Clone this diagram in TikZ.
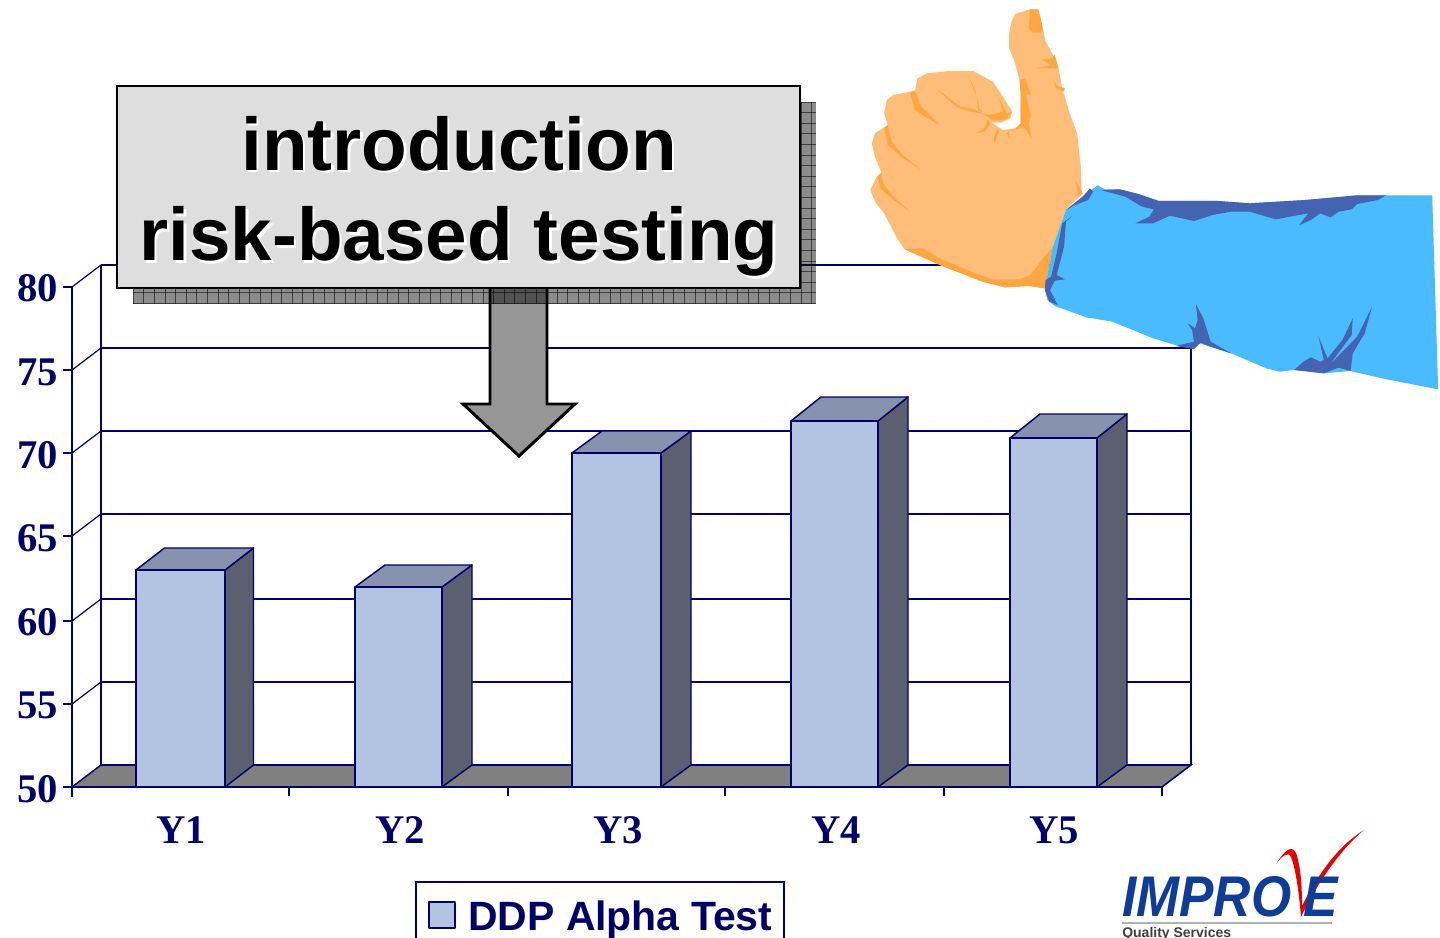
\documentclass[tikz,border=0pt]{standalone}
\usepackage{fontspec}
\setmainfont{Liberation Sans}
\newfontfamily\serifb{Liberation Serif}[BoldFont={Liberation Serif Bold}]
\definecolor{navy}{HTML}{000066}
\definecolor{face}{HTML}{B3C3E2}
\definecolor{barside}{HTML}{5A6070}
\definecolor{bartop}{HTML}{8793AE}
\definecolor{floorg}{HTML}{808080}
\definecolor{skin}{HTML}{FEBE7A}
\definecolor{skind}{HTML}{FEA640}
\definecolor{sleeve}{HTML}{4ABBFF}
\definecolor{sleeved}{HTML}{4464B2}
\definecolor{improve}{HTML}{0F3C96}
\definecolor{arrowg}{HTML}{969696}
\tikzset{
  x=0.75pt,y=-0.75pt,
  axisline/.style={draw=navy,line width=1.2pt},
  gridline/.style={draw=navy,line width=0.9pt},
  barf/.style={draw=navy,line width=1.1pt,fill=face,line join=round},
  bars/.style={draw=navy,line width=1.1pt,fill=barside,line join=round},
  bart/.style={draw=navy,line width=1.1pt,fill=bartop,line join=round},
  axlabel/.style={font=\serifb\bfseries\fontsize{30.5}{30.5}\selectfont,text=navy,inner sep=0pt},
  ttl/.style={font=\bfseries\fontsize{56}{56}\selectfont,inner sep=0pt,anchor=base},
  logotxt/.style={inner sep=0pt,anchor=base west,text=improve,font=\bfseries\itshape\fontsize{43}{43}\selectfont,xscale=0.9},
}
\newcommand{\drawbar}[5]{% x0, x1, top, dx, dy
  \path[bars] (#2,787) -- (#2+#4,765) -- (#2+#4,#3-#5) -- (#2,#3) -- cycle;
  \path[bart] (#1,#3) -- (#1+#4,#3-#5) -- (#2+#4,#3-#5) -- (#2,#3) -- cycle;
  \path[barf] (#1,#3) rectangle (#2,787);
}
\begin{document}
\begin{tikzpicture}
\useasboundingbox (0,0) rectangle (1440,938);
\path[fill=white] (0,0) rectangle (1440,938);
% chart walls
\path[fill=floorg,draw=navy,line width=1.1pt] (72,787) -- (101,765) -- (1191,765) -- (1162,787) -- cycle;
\foreach \yy in {265,348,431,514,599,682,765} \draw[gridline] (101,\yy) -- (1191,\yy);
\foreach \ya/\yb in {287/265,370/348,453/431,536/514,621/599,704/682} \draw[gridline] (72,\ya) -- (101,\yb);
\draw[gridline] (101,265) -- (101,765);
\draw[gridline] (1191,265) -- (1191,765);
\draw[axisline] (72,287) -- (72,797);
\draw[axisline] (63,787) -- (1162,787);
\foreach \yy in {287,370,453,536,621,704} \draw[axisline] (63,\yy) -- (72,\yy);
\foreach \xx in {289,508,725,944,1162} \draw[axisline] (\xx,787) -- (\xx,796);
% bars
\drawbar{136}{225}{570}{28.5}{22}
\drawbar{355}{442}{587}{30}{22}
\drawbar{572}{661}{453}{30}{22}
\drawbar{791}{878}{421}{30}{24}
\drawbar{1010}{1097}{438}{30}{24}
% axis labels
\foreach \v/\yy in {80/301.5,75/385,70/468.5,65/551.5,60/635,55/718.5,50/802}
  \node[axlabel,anchor=base east] (v\v) at (58,\yy) {\v};
\foreach \t/\xx in {Y1/181,Y2/400,Y3/618,Y4/836,Y5/1054}
  \node[axlabel,anchor=base] (l\t) at (\xx,843) {\t};
% legend
\path[draw=navy,line width=1.1pt,fill=white] (416,945) -- (416,882) -- (784,882) -- (784,945);
\path[barf] (429,902) rectangle (455,928);
\node[inner sep=0pt,anchor=base west,text=navy,font=\bfseries\fontsize{30.7}{30.7}\selectfont] (legend) at (468,930) {DDP Alpha Test};
% arrow
\path[draw=black,line width=2.2pt,fill=arrowg,line join=miter] (490,280) -- (547,280) -- (547,404) -- (575,404) -- (519,456) -- (463,404) -- (490,404) -- cycle;
% shadow of callout
\begin{scope}
\clip (133,102) rectangle (816,304);
\path[fill=black,fill opacity=0.45] (133,102) rectangle (816,304);
\foreach \xx in {133,143.6,...,816} \draw[black,draw opacity=0.55,line width=0.45pt] (\xx,102) -- (\xx,304);
\foreach \yy in {102,112.6,...,304} \draw[black,draw opacity=0.55,line width=0.45pt] (133,\yy) -- (816,\yy);
\end{scope}
% callout
\path[draw=black,line width=2.2pt,fill=black!13] (117,86) rectangle (800,288);
\node[ttl,text=white] at (461.5,173) {introduction};
\node[ttl,text=white] at (461.5,263) {risk-based testing};
\node[ttl] (t1) at (459,170.5) {introduction};
\node[ttl] (t2) at (459,260.5) {risk-based testing};
% arm and hand
\begin{scope}[x=0.2783pt,y=-0.25pt,shift={(2317.6,0)}]
\path[fill=skin] (418,42) -- (458,28) -- (480,28) -- (490,70) -- (500,125) -- (520,165) -- (535,205) -- (545,265) -- (565,340) -- (585,400) -- (595,500) -- (597,575) -- (600,580) -- (555,630) -- (520,740) -- (498,865) -- (455,858) -- (390,862) -- (330,845) -- (215,795) -- (150,745) -- (120,748) -- (100,715) -- (65,640) -- (40,605) -- (28,570) -- (45,530) -- (58,518) -- (40,470) -- (32,430) -- (40,400) -- (75,375) -- (65,340) -- (72,300) -- (90,285) -- (148,272) -- (155,235) -- (180,220) -- (240,213) -- (305,213) -- (358,245) -- (385,290) -- (410,335) -- (405,355) -- (380,368) -- (355,368) -- (385,390) -- (420,385) -- (433,370) -- (433,280) -- (430,240) -- (415,180) -- (402,145) -- (402,100) -- (408,65) -- cycle;
\begin{scope}[fill=skind]
\fill (458,28) -- (480,28) -- (490,70) -- (492,98) -- (465,98) -- (455,85) -- cycle;
\fill (492,120) -- (505,135) -- (498,130) -- cycle;
\fill (525,165) -- (535,205) -- (475,205) -- (515,195) -- (490,180) -- (515,175) -- cycle;
\fill (520,238) -- (530,258) -- (552,265) -- (550,275) -- (528,265) -- cycle;
\fill (430,240) -- (445,235) -- (460,282) -- (447,285) -- (460,345) -- (455,372) -- (462,415) -- (445,385) -- (430,385) -- (400,395) -- (405,420) -- (395,400) -- (420,385) -- (433,370) -- (433,280) -- cycle;
\fill (148,272) -- (135,278) -- (148,330) -- (175,350) -- (215,375) -- (165,320) -- cycle;
\fill (75,375) -- (65,385) -- (75,435) -- (110,470) -- (165,510) -- (115,465) -- (85,425) -- cycle;
\fill (58,518) -- (48,530) -- (55,565) -- (90,600) -- (135,635) -- (90,590) -- (62,550) -- cycle;
\fill (205,265) -- (270,320) -- (300,325) -- (340,345) -- (318,330) -- (315,290) -- (290,222) -- (310,270) -- (322,325) -- (335,345) -- (360,362) -- (395,358) -- (410,335) -- (395,340) -- (375,295) -- (385,335) -- (350,345) -- (300,335) -- (260,322) -- cycle;
\fill (345,358) -- (352,372) -- (335,395) -- (310,400) -- (335,385) -- cycle;
\fill (370,385) -- (375,395) -- (362,430) -- (360,415) -- cycle;
\fill (150,745) -- (120,748) -- (215,795) -- (330,845) -- (390,862) -- (455,858) -- (498,865) -- (520,740) -- (490,780) -- (460,825) -- (430,838) -- (355,838) -- (300,815) -- (215,775) -- (170,745) -- cycle;
\fill (580,540) -- (600,580) -- (590,590) -- (585,570) -- cycle;
\end{scope}
\path[fill=sleeve] (640,556) -- (660,568) -- (700,568) -- (750,582) -- (805,603) -- (965,603) -- (1050,610) -- (1200,600) -- (1340,586) -- (1542,586) -- (1558,1168) -- (1420,1138) -- (1320,1113) -- (1250,1120) -- (1170,1110) -- (1130,1115) -- (1095,1105) -- (1000,1060) -- (915,1030) -- (895,1045) -- (850,1035) -- (790,1015) -- (680,965) -- (610,952) -- (525,918) -- (505,900) -- (498,865) -- (520,740) -- (555,630) -- (600,590) -- cycle;
\begin{scope}[fill=sleeved]
\fill (648,570) -- (700,568) -- (750,582) -- (805,603) -- (965,603) -- (1050,610) -- (1200,600) -- (1340,586) -- (1418,586) -- (1395,600) -- (1340,612) -- (1325,628) -- (1290,635) -- (1268,652) -- (1240,640) -- (1215,660) -- (1183,676) -- (1208,640) -- (1120,658) -- (1050,635) -- (1000,635) -- (950,645) -- (900,663) -- (835,647) -- (790,670) -- (742,670) -- (780,650) -- (792,628) -- (760,620) -- (715,590) -- cycle;
\fill (620,565) -- (628,575) -- (615,600) -- (580,615) -- (555,630) -- (600,590) -- cycle;
\fill (572,648) -- (555,665) -- (550,740) -- (530,825) -- (552,838) -- (525,842) -- (512,870) -- (533,915) -- (510,905) -- (498,870) -- (500,840) -- (515,830) -- (530,760) -- (545,670) -- cycle;
\fill (905,912) -- (925,955) -- (945,1025) -- (1000,1060) -- (945,1040) -- (918,1028) -- (900,1047) -- (850,1038) -- (900,1025) -- (895,990) -- (883,970) -- (903,985) -- (910,960) -- cycle;
\fill (1380,920) -- (1360,1000) -- (1328,1060) -- (1322,1113) -- (1290,1103) -- (1250,1120) -- (1170,1110) -- (1195,1085) -- (1215,1072) -- (1240,1085) -- (1250,1080) -- (1235,1008) -- (1260,1075) -- (1300,1020) -- (1328,955) -- (1325,1005) -- (1265,1095) -- (1340,1010) -- cycle;
\end{scope}
\end{scope}
% logo
\path[fill=red!88!black] (1276,864) .. controls (1284,851) and (1293,842) .. (1297,856) .. controls (1301,870) and (1302,888) .. (1302,906) .. controls (1318,874) and (1338,846) .. (1364,830) .. controls (1340,850) and (1318,882) .. (1301,917) .. controls (1299,893) and (1296,870) .. (1291,857) .. controls (1288,851) and (1282,856) .. (1276,864) -- cycle;
\node[logotxt] (logo) at (1122,916) {IMPRO};
\node[logotxt] (logoe) at (1303,916) {E};
\draw[gray!60,line width=0.8pt] (1122,923) -- (1332,923);
\node[inner sep=0pt,anchor=base west,text=black!75,font=\bfseries\fontsize{10.5}{10.5}\selectfont] (qs) at (1122,937.5) {Quality Services};
\end{tikzpicture}
\end{document}
